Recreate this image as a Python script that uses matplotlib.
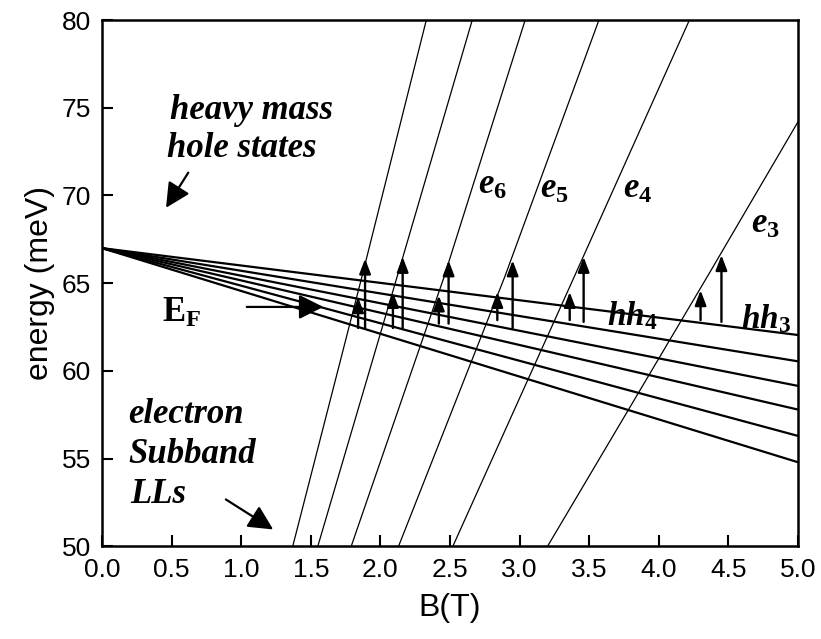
import matplotlib
matplotlib.use("Agg")
import matplotlib.pyplot as plt
import numpy as np

plt.rcParams['font.family'] = ['Liberation Sans', 'DejaVu Sans']
plt.rcParams['mathtext.fontset'] = 'custom'
plt.rcParams['mathtext.it'] = 'Liberation Serif:italic:bold'
plt.rcParams['mathtext.rm'] = 'Liberation Serif:bold'
plt.rcParams['mathtext.bf'] = 'Liberation Serif:bold'

# ---- data ----
# heavy-hole Landau levels: common origin and energies at B = 5 T
hole_B0 = 0.0
hole_E0 = 67.0
hole_B_end = 5.0
hole_E_end = [62.05, 60.55, 59.15, 57.8, 56.3, 54.8]

# electron subband Landau levels (polylines)
e_names = ['e8', 'e7', 'e6', 'e5', 'e4', 'e3']
e_B = [[1.37, 1.865, 2.33],
       [1.55, 2.125, 2.66],
       [1.79, 2.455, 3.04],
       [2.13, 2.895, 3.57],
       [2.52, 3.40, 4.22],
       [3.20, 4.365, 5.00]]
e_E = [[50, 65.3, 80],
       [50, 65.5, 80],
       [50, 65.3, 80],
       [50, 65.4, 80],
       [50, 65.5, 80],
       [50, 65.6, 74.2]]

# vertical transition arrows
arr_B = [1.84, 1.89, 2.09, 2.16, 2.42, 2.49, 2.84, 2.95, 3.36, 3.46, 4.30, 4.45]
arr_tail = [62.45, 62.45, 62.45, 62.45, 62.7, 62.7, 62.9, 62.45, 62.9, 62.8, 62.9, 62.8]
arr_head = [64.2, 66.4, 64.5, 66.5, 64.3, 66.3, 64.5, 66.3, 64.5, 66.5, 64.6, 66.6]

# labels
e_labels = [r'$e_6$', r'$e_5$', r'$e_4$', r'$e_3$']
e_label_B = [2.70, 3.15, 3.74, 4.66]
e_label_E = [70.1, 69.85, 69.85, 67.85]
hh_labels = [r'$hh_4$', r'$hh_3$']
hh_label_B = [3.63, 4.59]
hh_label_E = [62.6, 62.45]

x_ticks = [0.0, 0.5, 1.0, 1.5, 2.0, 2.5, 3.0, 3.5, 4.0, 4.5, 5.0]
y_ticks = [50, 55, 60, 65, 70, 75, 80]

# ---- figure ----
fig = plt.figure(figsize=(8.21, 6.39), dpi=100)
ax = fig.add_axes([0.1242, 0.1448, 0.972 - 0.1242, 0.9687 - 0.1448])
ax.set_xlim(0, 5)
ax.set_ylim(50, 80)

for Ee in hole_E_end:
    ax.plot([hole_B0, hole_B_end], [hole_E0, Ee], color='black', lw=1.6,
            solid_capstyle='butt')

for bs, es in zip(e_B, e_E):
    ax.plot(bs, es, color='black', lw=0.9)

for b, t, h in zip(arr_B, arr_tail, arr_head):
    ax.annotate('', xy=(b, h), xytext=(b, t),
                arrowprops=dict(arrowstyle='-|>,head_length=1.0,head_width=0.38',
                                mutation_scale=9, lw=1.7, color='black',
                                shrinkA=0, shrinkB=0))

tfont = dict(family='Liberation Serif', style='italic', weight='bold', fontsize=25)
ax.text(0.49, 74.36, 'heavy mass', **tfont)
ax.text(0.47, 72.19, 'hole states', **tfont)
ax.text(0.19, 57.04, 'electron', **tfont)
ax.text(0.19, 54.76, 'Subband', **tfont)
ax.text(0.20, 52.48, 'LLs', **tfont)
ax.text(0.43, 62.8, r'$\mathrm{E}_{\mathrm{F}}$', fontsize=25)

big = dict(arrowstyle='-|>,head_length=1.0,head_width=0.5', mutation_scale=15,
           lw=1.6, color='black', shrinkA=0, shrinkB=0)
ax.annotate('', xy=(0.46, 69.3), xytext=(0.62, 71.3), arrowprops=big)
ax.annotate('', xy=(1.23, 50.97), xytext=(0.89, 52.68), arrowprops=big)
ax.annotate('', xy=(1.59, 63.65), xytext=(1.04, 63.65), arrowprops=big)

for lab, b, e in zip(e_labels, e_label_B, e_label_E):
    ax.text(b, e, lab, fontsize=25)
for lab, b, e in zip(hh_labels, hh_label_B, hh_label_E):
    ax.text(b, e, lab, fontsize=24)

ax.set_xticks(x_ticks)
ax.set_xticklabels(['%.1f' % v for v in x_ticks])
ax.set_yticks(y_ticks)
ax.tick_params(direction='in', length=8, width=1.5, labelsize=19, pad=8,
               top=False, right=False)
for s in ax.spines.values():
    s.set_linewidth(1.8)

ax.set_xlabel('B(T)', fontsize=23, labelpad=8)
ax.set_ylabel('energy (meV)', fontsize=23, labelpad=5)

fig.savefig('out.png', dpi=100)
